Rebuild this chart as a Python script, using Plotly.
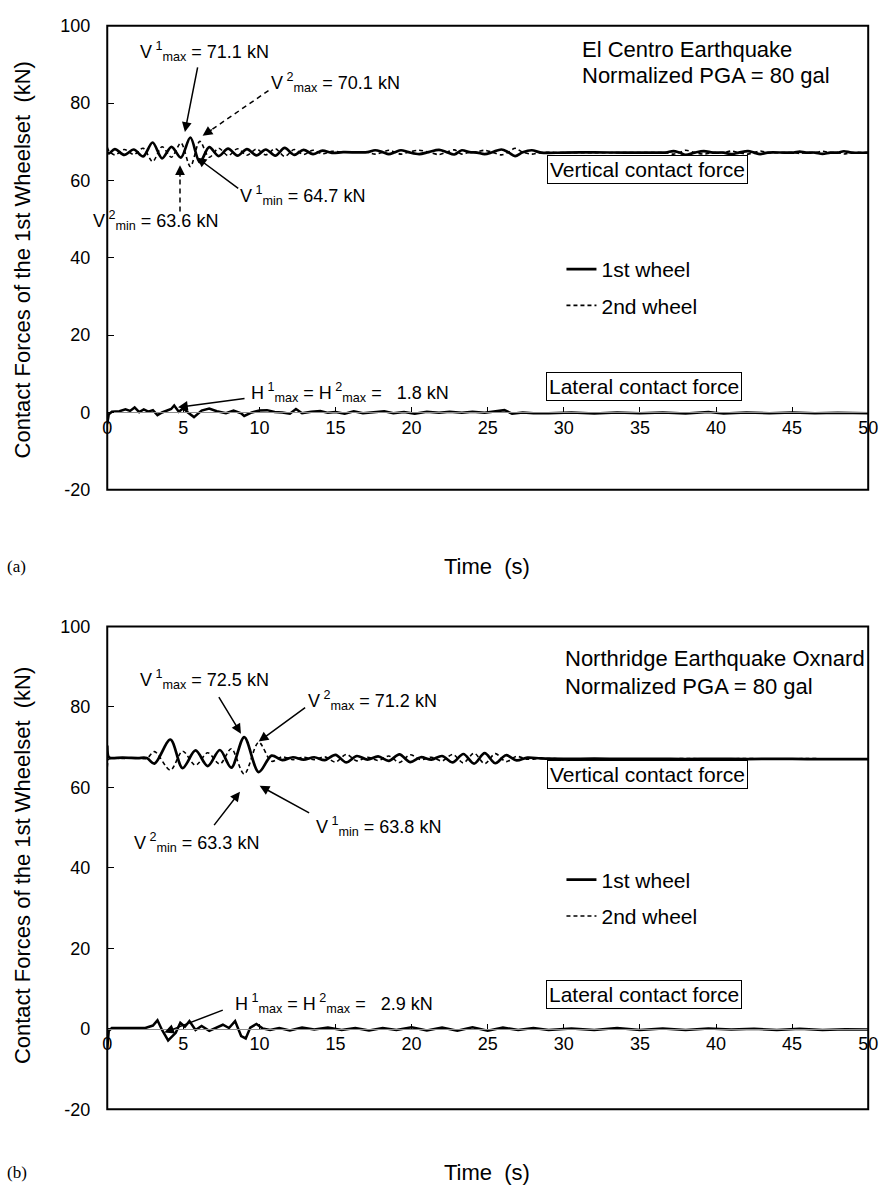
import plotly.graph_objects as go

W, H = 890, 1192
FONT = "Liberation Sans, Arial, sans-serif"
SERIF = "Liberation Serif, Times New Roman, serif"

x_ticks = [0, 5, 10, 15, 20, 25, 30, 35, 40, 45, 50]
y_ticks = [-20, 0, 20, 40, 60, 80, 100]
y_ticktext = ["-20", "0", "20", "40", "60", "80", "100"]

# ---------------- (a) El Centro: vertical contact force ----------------
t_a_v = [0.0, 0.12, 0.50, 1.12, 1.74, 2.36, 2.98, 3.60, 4.22, 4.84, 5.46, 6.08, 6.70, 7.32,
         7.94, 8.56, 9.18, 9.80, 10.42, 11.04, 11.66, 12.28, 12.90, 13.52, 14.14, 14.76,
         15.5, 16.5, 17.1, 17.6, 18.1, 18.5, 18.9, 19.3, 19.8, 20.5, 21.1, 21.8, 22.3, 22.8,
         23.3, 23.8, 24.3, 24.8, 25.3, 25.9, 26.35, 26.8, 27.3, 27.9, 28.5, 30.0, 32.0, 34.0,
         36.0, 36.7, 37.2, 37.6, 38.0, 38.6, 39.2, 39.8, 40.5, 41.0, 41.5, 42.1, 42.5, 42.9,
         43.4, 44.5, 45.1, 45.5, 45.9, 46.5, 47.0, 47.5, 48.0, 48.4, 48.9, 50.0]
v1_a = [67.3, 67.0, 68.1, 66.6, 68.0, 66.2, 69.8, 65.7, 68.7, 65.9, 71.1, 64.7, 68.6, 66.3,
        68.2, 66.4, 68.1, 66.5, 68.0, 66.4, 68.4, 66.6, 67.9, 66.8, 67.7, 67.1,
        67.3, 67.25, 67.3, 67.8, 67.3, 66.8, 67.3, 67.8, 67.3, 66.8, 67.3, 67.9, 67.3, 66.7,
        67.8, 67.3, 67.2, 66.8, 67.3, 68.0, 67.3, 66.3, 67.3, 67.8, 67.2, 67.2, 67.25, 67.2,
        67.2, 67.2, 67.6, 67.2, 66.6, 67.2, 67.6, 67.2, 67.2, 66.8, 67.2, 67.6, 67.2, 66.8,
        67.2, 67.2, 67.2, 67.45, 67.2, 67.2, 66.85, 67.2, 67.2, 67.55, 67.2, 67.2]
v2_a = [68.6, 67.6, 66.6, 68.0, 66.7, 68.3, 64.9, 68.7, 66.0, 69.7, 63.6, 70.1, 66.0, 68.3,
        66.4, 68.2, 66.5, 68.1, 66.6, 68.2, 66.2, 68.0, 66.7, 67.8, 66.9, 67.5,
        67.3, 67.35, 67.3, 66.8, 67.3, 67.8, 67.3, 66.8, 67.3, 67.8, 67.3, 66.7, 67.3, 67.9,
        66.8, 67.3, 67.4, 67.8, 67.3, 66.6, 67.3, 68.3, 67.3, 66.8, 67.2, 67.2, 67.15, 67.2,
        67.2, 67.2, 66.8, 67.2, 67.8, 67.2, 66.8, 67.2, 67.2, 67.6, 67.2, 66.8, 67.2, 67.6,
        67.2, 67.2, 67.2, 66.95, 67.2, 67.2, 67.55, 67.2, 67.2, 66.85, 67.2, 67.2]

# ---------------- (a) El Centro: lateral contact force ----------------
t_a_h = [0.0, 0.1, 0.3, 0.8, 1.2, 1.5, 1.8, 2.1, 2.4, 2.7, 3.0, 3.3, 3.6, 3.9, 4.2, 4.4, 4.7,
         5.0, 5.3, 5.7, 6.2, 6.7, 7.2, 7.8, 8.3, 8.8, 9.0, 9.5, 10.0, 10.5, 11.0, 11.5, 12.0,
         12.4, 12.8, 13.4, 14.0, 14.5, 15.0, 15.6, 16.2, 16.8, 17.5, 18.2, 18.8, 19.5, 20.2,
         21.0, 21.8, 22.5, 23.3, 24.0, 24.8, 25.5, 26.1, 26.6, 27.3, 28.0, 29.0, 30.5, 32.0,
         33.5, 35.0, 36.5, 38.0, 39.5, 40.5, 42.0, 43.5, 45.0, 46.5, 48.0, 50.0]
h_a = [-3.0, -0.5, 0.2, 0.3, 0.8, 0.4, 1.3, 0.1, 0.8, 0.2, 0.6, -0.7, 0.0, 0.5, 0.9, 1.8, 0.2,
       1.1, 0.0, -1.2, 0.5, 1.0, 0.3, -0.2, 0.5, -0.2, -0.9, 0.0, 0.5, 0.6, 0.1, 0.0, -0.3,
       0.9, -0.2, 0.2, 0.4, -0.1, 0.1, -0.3, 0.3, -0.2, 0.1, 0.3, -0.2, 0.1, -0.3,
       0.2, -0.1, 0.2, -0.1, 0.2, -0.1, 0.2, 0.6, -0.3, 0.0, -0.2, -0.2, 0.0, -0.3,
       0.0, -0.2, 0.0, -0.3, 0.1, -0.3, 0.0, -0.2, 0.0, -0.2, -0.1, -0.2]

# ---------------- (b) Northridge: vertical contact force ----------------
t_b_v = [0.0, 0.08, 0.2, 1.0, 2.0, 2.6, 3.1, 4.15, 4.95, 5.8, 6.6, 7.4, 8.15, 9.0, 9.95,
         10.8, 11.5, 12.2, 12.9, 13.6, 14.3, 15.0, 15.7, 16.4, 17.1, 17.8, 18.5, 19.2, 19.9,
         20.6, 21.3, 22.0, 22.7, 23.4, 24.1, 24.8, 25.5, 26.2, 26.9, 27.6, 28.5, 30.0, 32.0,
         34.0, 36.0, 38.0, 40.0, 42.0, 44.0, 46.0, 48.0, 50.0]
v1_b = [70.4, 67.6, 67.3, 67.4, 67.3, 67.3, 65.9, 71.9, 64.8, 69.2, 65.3, 69.3, 64.9, 72.5, 63.8,
        67.9, 66.8, 67.5, 66.9, 67.5, 66.8, 68.1, 66.2, 67.8, 66.9, 67.7, 66.6, 68.2, 66.3,
        67.5, 66.9, 67.8, 66.2, 68.3, 65.9, 68.5, 66.0, 68.0, 66.7, 67.4, 67.2, 67.1, 67.15,
        67.1, 67.1, 67.05, 67.1, 67.05, 67.1, 67.05, 67.05, 67.05]
v2_b = [65.0, 66.9, 67.2, 67.2, 67.3, 67.2, 68.9, 64.3, 69.0, 65.5, 68.6, 65.8, 69.6, 63.3, 71.2,
        66.5, 67.6, 66.9, 67.5, 66.9, 67.6, 66.3, 68.2, 66.6, 67.5, 66.7, 67.8, 66.2, 68.1,
        66.9, 67.5, 66.6, 68.2, 66.1, 68.5, 65.9, 68.4, 66.4, 67.7, 67.0, 67.2, 67.1, 67.05,
        67.1, 67.1, 67.15, 67.1, 67.15, 67.1, 67.15, 67.1, 67.05]

# ---------------- (b) Northridge: lateral contact force ----------------
t_b_h = [0.0, 0.1, 0.3, 1.5, 2.5, 3.0, 3.3, 3.6, 4.0, 4.5, 4.8, 5.1, 5.4, 5.8, 6.2, 6.7, 7.2,
         7.6, 8.0, 8.4, 8.8, 9.1, 9.4, 9.8, 10.2, 10.7, 11.3, 12.0, 12.8, 13.6, 14.5, 15.4,
         16.3, 17.2, 18.1, 19.0, 20.0, 21.0, 22.0, 23.0, 24.0, 25.0, 26.0, 27.0, 28.0, 29.0,
         30.5, 32.0, 33.5, 35.0, 36.5, 38.0, 39.5, 41.0, 42.5, 44.0, 45.5, 47.0, 48.5, 50.0]
h_b = [-5.0, -0.5, 0.2, 0.1, 0.2, 0.8, 2.1, -0.3, -2.9, -1.0, 1.5, 0.5, 1.9, -0.3, 0.7, -0.5,
       0.3, 1.0, 0.2, 1.9, -1.8, -2.4, 0.3, 1.2, 0.1, -0.3, 0.2, -0.4, 0.3, -0.2, 0.3, -0.3,
       0.2, -0.4, 0.2, -0.3, 0.4, -0.4, 0.3, -0.5, 0.4, -0.5, 0.3, -0.3, 0.2, -0.3,
       0.1, -0.3, 0.2, -0.3, 0.1, -0.3, 0.1, -0.2, 0.0, -0.3, 0.0, -0.3, -0.1, -0.2]

assert len(t_a_v) == len(v1_a) == len(v2_a)
assert len(t_b_v) == len(v1_b) == len(v2_b)
assert len(t_a_h) == len(h_a)
assert len(t_b_h) == len(h_b)

# ---------------- layout geometry (pixels) ----------------
X0, X1 = 104, 878
PANELS = {1: (16, 488), 2: (627, 1118)}
YR = (-20, 100)


def dom(p):
    return [1 - p[1] / H, 1 - p[0] / H]


def zero_pos(p):
    d = dom(p)
    return d[0] + (0 - YR[0]) / (YR[1] - YR[0]) * (d[1] - d[0])


def P(x, y):
    return x / W, 1 - y / H


fig = go.Figure()

solid = dict(color="black", width=2.7, shape="spline", smoothing=0.9)
dotted = dict(color="black", width=1.6, dash="4px,3px", shape="spline", smoothing=0.9)

for i, (tv, a1, a2, th, hh) in {1: (t_a_v, v1_a, v2_a, t_a_h, h_a),
                                 2: (t_b_v, v1_b, v2_b, t_b_h, h_b)}.items():
    xa = "x" if i == 1 else "x2"
    ya = "y" if i == 1 else "y2"
    lg = "legend" if i == 1 else "legend2"
    fig.add_trace(go.Scatter(x=th, y=hh, mode="lines", xaxis=xa, yaxis=ya,
                             line=dict(color="black", width=2.5), showlegend=False,
                             hoverinfo="skip"))
    fig.add_trace(go.Scatter(x=tv, y=a2, mode="lines", xaxis=xa, yaxis=ya, name="2nd wheel",
                             line=dotted, legend=lg, legendrank=2, legendgroup=f"b{i}"))
    fig.add_trace(go.Scatter(x=tv, y=a1, mode="lines", xaxis=xa, yaxis=ya, name="1st wheel",
                             line=solid, legend=lg, legendrank=1, legendgroup=f"a{i}"))

tickfont = dict(size=18, family=FONT, color="black")
layout_axes = {}
for i, p in PANELS.items():
    sx = "xaxis" if i == 1 else "xaxis2"
    sy = "yaxis" if i == 1 else "yaxis2"
    layout_axes[sx] = dict(domain=[X0 / W, X1 / W], range=[0, 50], anchor="free",
                           position=zero_pos(p), tickvals=x_ticks, ticks="inside", ticklen=5,
                           tickcolor="black", showline=True, linecolor="#8c8c8c", linewidth=1,
                           showgrid=False, zeroline=False, tickfont=tickfont,
                           ticklabelstandoff=-1, fixedrange=True)
    layout_axes[sy] = dict(domain=dom(p), range=list(YR), anchor="free", position=X0 / W,
                           tickvals=y_ticks, ticktext=y_ticktext, ticks="inside", ticklen=6,
                           tickcolor="black", showline=False, showgrid=False, zeroline=False,
                           tickfont=tickfont, ticklabelstandoff=17, fixedrange=True)

shapes = []
annotations = []


def text(t, x, y, size=18, xanchor="center", box=False, family=FONT, angle=0):
    px, py = P(x, y)
    a = dict(text=t, x=px, y=py, xref="paper", yref="paper", showarrow=False,
             xanchor=xanchor, yanchor="middle", textangle=angle,
             font=dict(size=size, family=family, color="black"))
    if box:
        a.update(bordercolor="black", borderwidth=1, borderpad=2, bgcolor="white")
    annotations.append(a)


def arrow(tail, head, dashed=False):
    hx, hy = P(*head)
    if dashed:
        dx, dy = head[0] - tail[0], head[1] - tail[1]
        L = (dx * dx + dy * dy) ** 0.5
        ux, uy = dx / L, dy / L
        mid = (head[0] - ux * 12, head[1] - uy * 12)
        x0, y0 = P(*tail)
        x1, y1 = P(*mid)
        shapes.append(dict(type="line", xref="paper", yref="paper", x0=x0, y0=y0, x1=x1, y1=y1,
                           line=dict(color="black", width=1.5, dash="5px,4px")))
        annotations.append(dict(text="", x=hx, y=hy, xref="paper", yref="paper", showarrow=True,
                                ax=-ux * 13, ay=-uy * 13, axref="pixel", ayref="pixel",
                                arrowhead=2, arrowsize=1.3, arrowwidth=1.5, arrowcolor="black",
                                standoff=0, startstandoff=0))
    else:
        annotations.append(dict(text="", x=hx, y=hy, xref="paper", yref="paper", showarrow=True,
                                ax=tail[0] - head[0], ay=tail[1] - head[1], axref="pixel",
                                ayref="pixel", arrowhead=2, arrowsize=1.3, arrowwidth=1.5,
                                arrowcolor="black", standoff=0, startstandoff=0))


def V(k, sub, val):
    return f"V<sup> {k}</sup><sub>{sub}</sub> = {val} kN"


NB = "\u00a0"

# panel frames
for i in PANELS:
    xr = "x domain" if i == 1 else "x2 domain"
    yr = "y domain" if i == 1 else "y2 domain"
    shapes.append(dict(type="rect", xref=xr, yref=yr, x0=0, x1=1, y0=0, y1=1,
                       line=dict(color="black", width=2), layer="above"))

# ---- panel (a) ----
text(V(1, "max", "71.1"), 203, 42)
arrow((196, 58), (183, 124))
text(V(2, "max", "70.1"), 336, 74)
arrow((268, 82), (201, 128), dashed=True)
text(V(1, "min", "64.7"), 303, 189)
arrow((238, 182), (195, 150))
text(V(2, "min", "63.6"), 153, 214)
arrow((178, 205), (178, 158), dashed=True)
text("El Centro Earthquake", 585, 40, size=22, xanchor="left")
text("Normalized PGA = 80 gal", 585, 67, size=22, xanchor="left")
text("Vertical contact force", 654, 162, size=21, box=True)
text("Lateral contact force", 650, 383, size=21, box=True)
text(f"H<sup> 1</sup><sub>max</sub> = H<sup> 2</sup><sub>max</sub> = {NB} 1.8 kN", 351, 389)
arrow((244, 395), (176, 404))
text(f"Contact Forces of the 1st Wheelset{NB} (kN)", 18, 254, size=22, angle=-90)
text(f"Time{NB} (s)", 490, 566, size=22)
text("(a)", 12, 566, size=17, family=SERIF)

# ---- panel (b) ----
text(V(1, "max", "72.5"), 203, 681)
arrow((217, 698), (240, 736))
text(V(2, "max", "71.2"), 374, 702)
arrow((306, 709), (258, 744))
text(V(1, "min", "63.8"), 380, 830)
arrow((310, 817), (259, 789))
text(V(2, "min", "63.3"), 195, 847)
arrow((212, 830), (239, 795))
text("Northridge Earthquake Oxnard", 568, 660, size=22, xanchor="left")
text("Normalized PGA = 80 gal", 568, 688, size=22, xanchor="left")
text("Vertical contact force", 654, 778, size=21, box=True)
text("Lateral contact force", 650, 1001, size=21, box=True)
text(f"H<sup> 1</sup><sub>max</sub> = H<sup> 2</sup><sub>max</sub> = {NB} 2.9 kN", 335, 1010)
arrow((222, 1017), (162, 1040))
text(f"Contact Forces of the 1st Wheelset{NB} (kN)", 18, 870, size=22, angle=-90)
text(f"Time{NB} (s)", 490, 1182, size=22)
text("(b)", 12, 1182, size=17, family=SERIF)

legend_common = dict(xanchor="left", yanchor="top", bgcolor="rgba(0,0,0,0)",
                     font=dict(size=21, family=FONT, color="black"), tracegroupgap=6,
                     itemwidth=30, traceorder="grouped")

fig.update_layout(
    width=W, height=H, margin=dict(l=0, r=0, t=0, b=0),
    paper_bgcolor="white", plot_bgcolor="white",
    font=dict(family=FONT, color="black"),
    shapes=shapes, annotations=annotations,
    legend=dict(x=566 / W, y=1 - 243 / H, **legend_common),
    legend2=dict(x=566 / W, y=1 - 864 / H, **legend_common),
    **layout_axes,
)

fig.write_html("out.html")
